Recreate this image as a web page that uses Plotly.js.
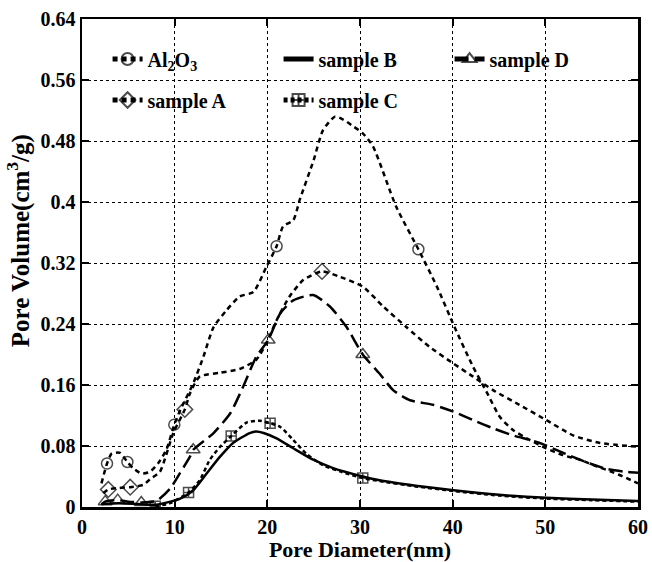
<!DOCTYPE html>
<html><head><meta charset="utf-8">
<script src="https://cdn.plot.ly/plotly-3.0.1.min.js"></script>
<style>html,body{margin:0;padding:0;background:#fff}#chart{width:652px;height:562px}</style>
</head><body><div id="chart"></div>
<script>
// ---- data ----
const alX = [2.1,2.7,3.2,4.1,4.9,5.5,6.4,7.3,8.2,9.1,9.96,10.6,12.0,13.1,14.2,15.6,17.0,18.5,19.9,21.0,21.7,22.8,23.5,25.0,26.0,27.3,28.2,29.3,30.3,31.4,33.9,36.3,38.3,40.2,42.2,43.7,45.1,46.5,48.3,50.1,51.9,53.7,55.2,58.0,60.0];
const alY = [0.031,0.057,0.070,0.071,0.059,0.051,0.044,0.046,0.057,0.075,0.108,0.127,0.162,0.197,0.236,0.258,0.276,0.282,0.315,0.342,0.368,0.376,0.403,0.455,0.494,0.512,0.508,0.499,0.490,0.473,0.394,0.338,0.289,0.236,0.184,0.150,0.118,0.101,0.088,0.077,0.068,0.062,0.055,0.042,0.031];
const alMarks = [1,4,10,19,31];

const aX = [2.3,2.84,4.0,5.2,6.6,7.5,8.4,9.85,11.1,11.65,12.7,14.9,17.0,18.8,19.9,21.0,22.4,23.9,25.9,27.8,30.3,32.5,35.0,37.5,40.1,42.2,44.4,47.2,50.1,53.0,55.9,60.0];
const aY = [0.018,0.023,0.025,0.026,0.029,0.038,0.046,0.097,0.128,0.149,0.171,0.176,0.181,0.193,0.215,0.245,0.276,0.298,0.309,0.302,0.289,0.263,0.236,0.210,0.188,0.171,0.153,0.134,0.114,0.094,0.084,0.079];
const aMarks = [1,3,8,18];

const bX = [2.1,4.0,6.0,8.0,10.6,12.0,13.45,14.9,16.3,18.1,18.8,19.6,21.0,22.8,24.95,27.1,30.3,32.1,36.0,40.1,45.0,50.1,55.0,60.0];
const bY = [0.004,0.005,0.004,0.003,0.011,0.022,0.044,0.066,0.084,0.097,0.099,0.097,0.090,0.077,0.062,0.051,0.040,0.035,0.028,0.022,0.016,0.012,0.010,0.008];

const cX = [7.9,9.5,11.5,12.7,13.8,14.9,16.1,17.8,19.2,20.3,21.4,22.8,24.2,26.0,28.0,30.3,32.1,36.0,40.1,45.0,50.1,55.0,60.0];
const cY = [0.001,0.005,0.019,0.035,0.062,0.079,0.093,0.111,0.113,0.110,0.105,0.088,0.070,0.055,0.046,0.038,0.034,0.027,0.021,0.015,0.011,0.009,0.007];
const cMarks = [0,2,6,9,15];

const dX = [2.1,2.5,3.85,5.0,6.4,8.05,9.5,10.6,11.65,12.0,14.2,16.0,17.4,18.8,20.1,21.4,22.8,24.95,26.75,28.55,30.3,32.1,33.6,35.4,37.9,40.1,42.2,44.4,46.5,49.4,52.3,54.8,56.6,58.8,60.0];
const dY = [0.003,0.007,0.009,0.007,0.006,0.008,0.024,0.045,0.066,0.075,0.097,0.123,0.158,0.197,0.219,0.254,0.271,0.278,0.263,0.236,0.200,0.175,0.153,0.140,0.134,0.125,0.114,0.103,0.094,0.084,0.069,0.057,0.050,0.046,0.045];
const dMarks = [1,2,4,9,14,20];

const seriesNames = ['Al<sub>2</sub>O<sub>3</sub>','sample B','sample D','sample A','sample C'];
const yTickVals = [0,0.08,0.16,0.24,0.32,0.4,0.48,0.56,0.64];
const yTickText = ['0','0.08','0.16','0.24','0.32','0.4','0.48','0.56','0.64'];
const xTickVals = [0,10,20,30,40,50,60];
const xTickText = ['0','10','20','30','40','50','60'];
const xTitle = 'Pore Diameter(nm)';
const yTitle = 'Pore Volume(cm<sup>3</sup>/g)';

// ---- build traces ----
function sizes(n, marks, s){ const a = new Array(n).fill(0); marks.forEach(i=>a[i]=s); return a; }
const FONT = 'Liberation Serif, Times New Roman, serif';
const traces = [
  {x:alX, y:alY, name:seriesNames[0], mode:'lines+markers', legend:'legend',
   line:{color:'#000', width:2.5, dash:'5px,4px', shape:'spline', smoothing:0.6},
   marker:{symbol:'circle-open', size:sizes(alX.length, alMarks, 11), color:'#000', line:{width:1.5,color:'#000'}}},
  {x:bX, y:bY, name:seriesNames[1], mode:'lines', legend:'legend',
   line:{color:'#000', width:2.5, shape:'spline', smoothing:0.6}},
  {x:dX, y:dY, name:seriesNames[2], mode:'lines+markers', legend:'legend',
   line:{color:'#000', width:2.5, dash:'14px,6px', shape:'spline', smoothing:0.6},
   marker:{symbol:'triangle-up-open', size:sizes(dX.length, dMarks, 12), color:'#000', line:{width:1.5,color:'#000'}}},
  {x:aX, y:aY, name:seriesNames[3], mode:'lines+markers', legend:'legend2',
   line:{color:'#000', width:2.5, dash:'5px,4px', shape:'spline', smoothing:0.6},
   marker:{symbol:'diamond-open', size:sizes(aX.length, aMarks, 12), color:'#000', line:{width:1.5,color:'#000'}}},
  {x:cX, y:cY, name:seriesNames[4], mode:'lines+markers', legend:'legend2',
   line:{color:'#000', width:2.5, dash:'4px,3px', shape:'spline', smoothing:0.6},
   marker:{symbol:'square-cross-open', size:sizes(cX.length, cMarks, 10), color:'#000', line:{width:1.5,color:'#000'}}}
];

const axisCommon = {
  showline:true, linecolor:'#000', linewidth:2.5, mirror:'ticks',
  ticks:'inside', ticklen:7, tickwidth:2, tickcolor:'#000',
  showgrid:true, gridcolor:'#000', gridwidth:1, griddash:'dot', zeroline:false,
  tickfont:{family:FONT, size:20, color:'#000', weight:'bold'}
};
const legendCommon = {orientation:'h', xanchor:'left', yanchor:'middle',
  bgcolor:'rgba(0,0,0,0)', entrywidth:126, entrywidthmode:'pixels', itemsizing:'constant',
  font:{family:FONT, size:20, color:'#000', weight:'bold'}, tracegroupgap:0};
const layout = {
  width:652, height:562,
  margin:{l:82, r:14, t:19, b:55},
  paper_bgcolor:'#fff', plot_bgcolor:'#fff',
  font:{family:FONT, color:'#000'},
  showlegend:true,
  legend:Object.assign({}, legendCommon, {x:0.046, y:0.918}),
  legend2:Object.assign({}, legendCommon, {x:0.046, y:0.834}),
  xaxis:Object.assign({}, axisCommon, {range:[0,60], tickvals:xTickVals, ticktext:xTickText,
    title:{text:xTitle, font:{family:FONT, size:22, color:'#000', weight:'bold'}, standoff:4}}),
  yaxis:Object.assign({}, axisCommon, {range:[0,0.64], tickvals:yTickVals, ticktext:yTickText}),
  annotations:[{text:yTitle, textangle:-90, xref:'paper', yref:'paper', x:-0.148, y:0.545,
    xanchor:'left', yanchor:'middle', showarrow:false,
    font:{family:FONT, size:25, color:'#000', weight:'bold'}}]
};
Plotly.newPlot('chart', traces, layout, {displayModeBar:false, staticPlot:true});
</script></body></html>
